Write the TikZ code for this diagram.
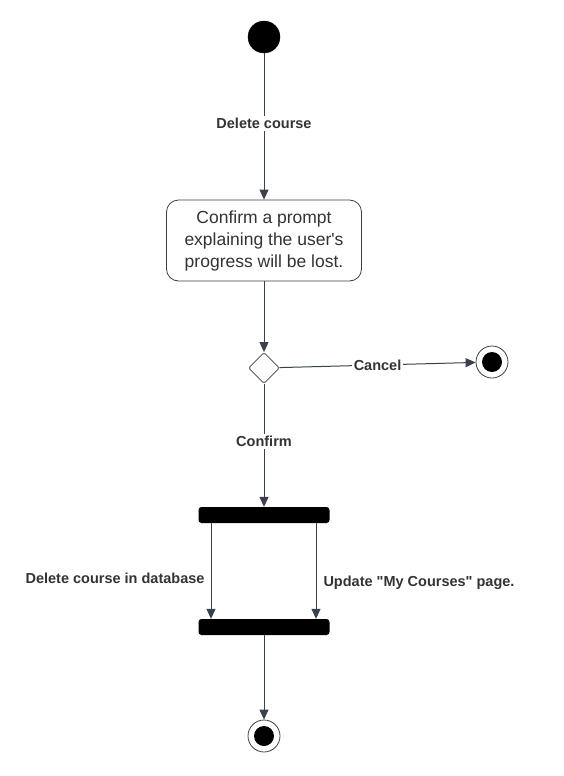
\documentclass[tikz,border=0pt]{standalone}
\usepackage{fontspec}
\setmainfont{Liberation Sans}[Ligatures=TeXOff]
\usetikzlibrary{arrows.meta,shapes.geometric}
\definecolor{linegray}{HTML}{3A414A}
\definecolor{textgray}{HTML}{333333}

\tikzset{
	flow/.style={draw=linegray, line width=1pt, -{Triangle[length=10pt,width=9pt]}},
	edgelabel/.style={fill=white, text=textgray, inner sep=2pt, font=\fontsize{14.5}{16}\selectfont\bfseries},
	sidelabel/.style={text=textgray, inner sep=0pt, font=\fontsize{14.5}{16}\selectfont\bfseries},
	initialnode/.style={circle, fill=black, draw=black, minimum size=32pt, inner sep=0pt},
	finalnode/.style={circle, fill=white, draw=linegray, line width=0.8pt, minimum size=32pt, inner sep=0pt},
	actionbox/.style={draw=linegray, fill=white, line width=0.8pt, rounded corners=12pt, minimum width=195pt, minimum height=81pt, align=center, text=textgray, font=\fontsize{17.5}{22}\selectfont},
	choicebox/.style={diamond, draw=linegray, fill=white, line width=0.8pt, rounded corners=2pt, minimum size=31pt, inner sep=0pt},
	syncbar/.style={rectangle, fill=black, rounded corners=3pt, minimum width=131pt, minimum height=16pt, inner sep=0pt}
}

\begin{document}
\begin{tikzpicture}[x=1pt,y=-1pt]
	%%%%% START %%%%%
	\useasboundingbox (0,0) rectangle (563,776);
	
	\node[initialnode] (start) at (264,37) {};
	\node[actionbox] (prompt) at (264,240.5) {Confirm a prompt\\explaining the user's\\progress will be lost.};
	\node[choicebox] (choice) at (264,368) {};
	
	\node[finalnode] (cancelend) at (492,362) {};
	\fill (cancelend) circle (10pt);
	
	\node[syncbar] (fork) at (264,515) {};
	\node[syncbar] (join) at (264,627) {};
	
	\node[finalnode] (doneend) at (264,736) {};
	\fill (doneend) circle (10pt);
	
	\draw[flow] (start) -- node[edgelabel, pos=0.48] {Delete course} (prompt);
	\draw[flow] (prompt) -- (choice);
	\draw[flow] (choice) -- node[edgelabel] {Cancel} (cancelend);
	\draw[flow] (choice) -- node[edgelabel, pos=0.47] {Confirm} (fork);
	
	\draw[flow] ([xshift=-53pt]fork.south) -- node[sidelabel, pos=0.58, left=6pt] {Delete course in database} ([xshift=-53pt]join.north);
	\draw[flow] ([xshift=52pt]fork.south) -- node[sidelabel, pos=0.62, right=7pt] {Update "My Courses" page.} ([xshift=52pt]join.north);
	
	\draw[flow] (join) -- (doneend);
	%%%%% END %%%%%
\end{tikzpicture}
\end{document}
